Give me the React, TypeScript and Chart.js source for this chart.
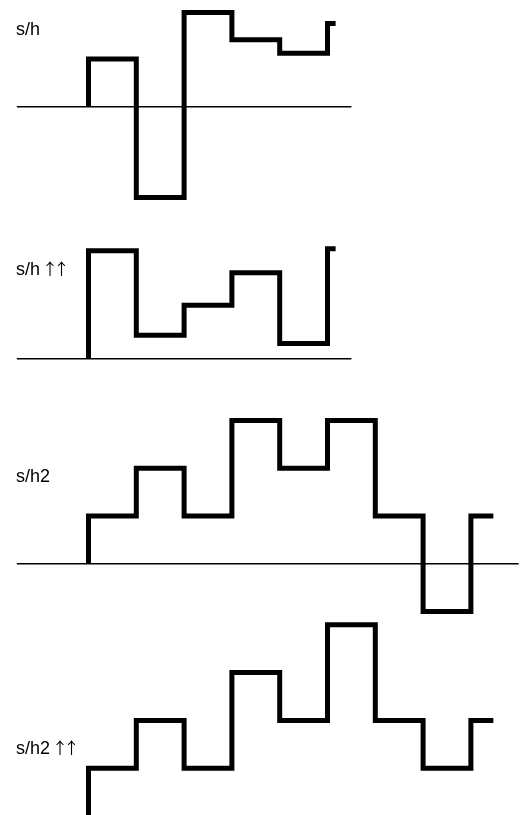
import React, { useEffect, useRef } from "react";
import { Chart, registerables } from "chart.js";

Chart.register(...registerables);

// ---- data ----
const panelNames = ["s/h", "s/h", "s/h2", "s/h2"];
const panelMarks = ["", "\u2191\u2191", "", "\u2191\u2191"];

// held sample values for each panel (one per sample interval)
const shValues = [1.0, -1.9, 1.97, 1.4, 1.12, 1.74];
const shUpValues = [2.26, 0.49, 1.12, 1.8, 0.32, 2.3];
const sh2Values = [1, 2, 1, 3, 2, 3, 1, -1, 1];
const sh2UpValues = [1, 2, 1, 3, 2, 4, 2, 1, 2];

// where the last held sample ends (in sample units)
const shEnd = 5.17;
const sh2End = 8.47;

// extent of the zero axis line (in sample units)
const axisStart = -1.5;
const shAxisEnd = 5.5;
const sh2AxisEnd = 9.0;

// ---- layout ----
const W = 522;
const H = 815;
const UNIT_X = 47.8; // px per sample
const ORIGIN_X = 88.5; // px of sample 0
const UNIT_Y = 47.8; // px per value unit
const baselinesPx = [106.7, 358.7, 563.8, 816];
const labelBaselinePx = [35, 275, 481.5, 754];
const LABEL_X = 16;

function stepPoints(values: number[], end: number) {
  const pts = [{ x: 0, y: 0 }];
  values.forEach((v, i) => {
    const x = i === values.length - 1 ? end : i + 1;
    pts.push({ x, y: v });
  });
  return pts;
}

function yScale(basePx: number) {
  const max = basePx / UNIT_Y;
  return { type: "linear" as const, display: false, min: max - H / UNIT_Y, max };
}

export default function App() {
  const ref = useRef<HTMLCanvasElement | null>(null);

  useEffect(() => {
    if (!ref.current) return;
    const series = [
      { values: shValues, end: shEnd, axisEnd: shAxisEnd, showAxis: true },
      { values: shUpValues, end: shEnd, axisEnd: shAxisEnd, showAxis: true },
      { values: sh2Values, end: sh2End, axisEnd: sh2AxisEnd, showAxis: true },
      { values: sh2UpValues, end: sh2End, axisEnd: sh2AxisEnd, showAxis: false },
    ];
    const datasets: any[] = [];
    series.forEach((s, i) => {
      const axisId = "y" + (i + 1);
      if (s.showAxis) {
        datasets.push({
          data: [
            { x: axisStart, y: 0 },
            { x: s.axisEnd, y: 0 },
          ],
          yAxisID: axisId,
          borderColor: "#000",
          borderWidth: 1.5,
          pointRadius: 0,
          fill: false,
        });
      }
      datasets.push({
        data: stepPoints(s.values, s.end),
        yAxisID: axisId,
        borderColor: "#000",
        borderWidth: 5,
        stepped: "after",
        pointRadius: 0,
        fill: false,
        borderJoinStyle: "miter",
        borderCapStyle: "butt",
        clip: 4,
      });
    });

    const drawLabel = (ctx: any, name: string, marks: string, x: number, y: number) => {
      ctx.font = '18px "Liberation Sans", Arial, sans-serif';
      ctx.textAlign = "left";
      ctx.fillText(name, x, y);
      const w = ctx.measureText(name).width;
      if (marks) {
        ctx.font = '16px "Noto Sans CJK JP"';
        ctx.textAlign = "center";
        Array.from(marks).forEach((m, k) => ctx.fillText(m, x + w + 10 + k * 11.6, y));
      }
    };

    const labelPlugin = {
      id: "panelLabels",
      afterDraw(chart: any) {
        const ctx = chart.ctx;
        ctx.save();
        ctx.fillStyle = "#000";
        ctx.textBaseline = "alphabetic";
        panelNames.forEach((t, i) => drawLabel(ctx, t, panelMarks[i], LABEL_X, labelBaselinePx[i]));
        ctx.restore();
      },
    };

    const xMin = -ORIGIN_X / UNIT_X;
    const chart = new Chart(ref.current, {
      type: "line",
      data: { datasets },
      options: {
        animation: false,
        responsive: false,
        devicePixelRatio: 1,
        parsing: false as any,
        layout: { padding: 0 },
        plugins: { legend: { display: false }, tooltip: { enabled: false } },
        scales: {
          x: { type: "linear", display: false, min: xMin, max: xMin + W / UNIT_X },
          y1: yScale(baselinesPx[0]),
          y2: yScale(baselinesPx[1]),
          y3: yScale(baselinesPx[2]),
          y4: yScale(baselinesPx[3]),
        },
      },
      plugins: [labelPlugin],
    });
    return () => chart.destroy();
  }, []);

  return (
    <div style={{ position: "absolute", left: 0, top: 0, width: W, height: H, background: "#fff" }}>
      <canvas ref={ref} width={W} height={H} style={{ display: "block" }} />
    </div>
  );
}
